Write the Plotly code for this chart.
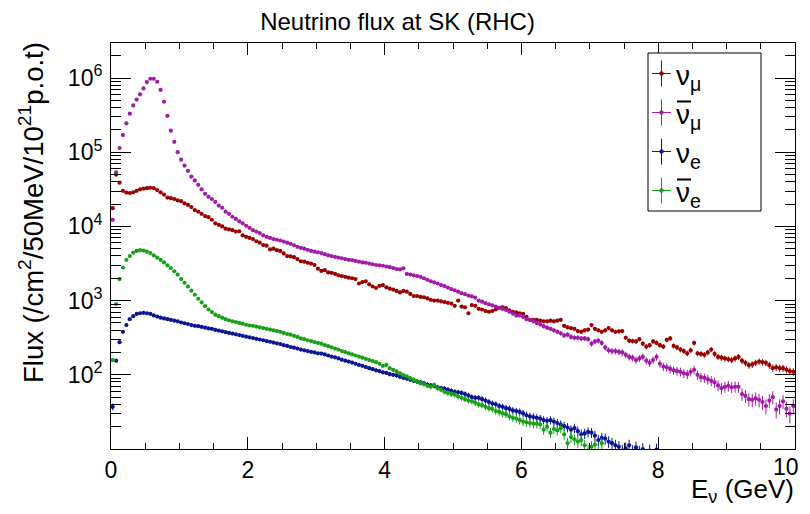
import numpy as np
import plotly.graph_objects as go

# ---------------- data (flux per 50 MeV bin) ----------------
n_bins = 200
bin_width = 0.05
energy = [round(bin_width * (i + 0.5), 3) for i in range(n_bins)]

numu = [17600, 50000, 38900, 30200, 28600, 28200, 28800, 30200, 31600, 32400,
        32800, 33100, 32800, 30900, 28800, 26900, 24500, 24000, 23400, 22400,
        21900, 20400, 19500, 18200, 16600, 15800, 14800, 13800, 13300, 12300,
        11000, 10500, 10000, 9330, 9120, 8910, 8510, 8610, 7590, 7240,
        7000, 6760, 6310, 6030, 5620, 5500, 4900, 5010, 4790, 4680,
        4320, 3980, 3940, 3850, 3630, 3390, 3350, 3240, 3160, 3020,
        2690, 2510, 2570, 2400, 2370, 2290, 2190, 2140, 2090, 2040,
        2000, 1950, 1700, 1780, 1820, 1660, 1550, 1480, 1580, 1620,
        1510, 1450, 1410, 1350, 1290, 1350, 1320, 1230, 1150, 1150,
        1120, 1110, 1070, 1020, 1000, 1000, 977, 955, 933, 912,
        851, 1000, 832, 813, 676, 871, 851, 776, 759, 724,
        708, 724, 759, 794, 813, 794, 741, 708, 692, 676,
        661, 603, 550, 550, 550, 537, 525, 525, 537, 525,
        537, 550, 457, 437, 427, 417, 389, 380, 398, 407,
        468, 417, 398, 380, 398, 427, 398, 380, 385, 389,
        316, 288, 285, 282, 302, 263, 240, 251, 282, 269,
        251, 240, 295, 309, 245, 234, 219, 209, 195, 214,
        269, 195, 191, 186, 200, 219, 191, 174, 170, 166,
        162, 158, 166, 174, 155, 145, 135, 138, 145, 151,
        148, 145, 135, 123, 126, 123, 123, 117, 112, 110]

numubar = [12300, 53700, 114000, 170000, 245000, 331000, 427000, 513000, 603000, 724000,
           883000, 977000, 977000, 891000, 692000, 479000, 309000, 195000, 138000, 100000,
           79400, 66100, 56200, 46800, 41700, 36300, 31600, 27500, 25100, 23400,
           21400, 19100, 17800, 15800, 14800, 13500, 12600, 11700, 11000, 10200,
           9550, 8910, 8510, 8130, 7590, 7240, 7000, 6760, 6610, 6460,
           6240, 6030, 5820, 5560, 5310, 5130, 5010, 4840, 4680, 4570,
           4470, 4370, 4220, 4070, 3980, 3890, 3800, 3720, 3630, 3550,
           3510, 3430, 3350, 3270, 3240, 3160, 3090, 3020, 2990, 2950,
           2880, 2820, 2750, 2660, 2630, 2720, 2290, 2240, 2190, 2140,
           2090, 2000, 1910, 1820, 1760, 1700, 1620, 1570, 1500, 1430,
           1380, 1320, 1260, 1220, 1170, 1140, 1100, 1000, 966, 923,
           891, 861, 832, 804, 776, 750, 708, 668, 631, 631,
           603, 562, 550, 525, 501, 479, 452, 432, 417, 398,
           380, 363, 339, 347, 324, 316, 316, 309, 309, 302,
           263, 282, 288, 269, 234, 214, 209, 209, 204, 200,
           186, 174, 170, 158, 166, 174, 155, 145, 158, 174,
           141, 129, 126, 120, 115, 112, 110, 105, 102, 110,
           117, 100, 93, 91, 87, 83, 79, 72, 66, 69,
           71, 68, 69, 69, 55, 52, 47, 46, 48, 46,
           43, 38, 45, 50, 34, 38, 44, 35, 30, 38]

nue = [37, 155, 275, 380, 468, 562, 617, 661, 676, 684,
       676, 661, 631, 610, 589, 575, 562, 550, 537, 525,
       507, 495, 484, 468, 457, 452, 442, 432, 422, 417,
       403, 394, 385, 376, 367, 359, 351, 343, 335, 327,
       320, 313, 305, 299, 292, 285, 279, 272, 266, 260,
       251, 245, 237, 232, 226, 219, 214, 209, 204, 200,
       195, 193, 188, 182, 176, 172, 166, 160, 155, 151,
       146, 141, 136, 132, 127, 123, 119, 115, 112, 108,
       106, 102, 100, 98, 94, 91, 89, 86, 83, 81,
       79, 77, 74, 72, 71, 68, 66, 65, 63, 61,
       59, 58, 57, 55, 52.5, 50, 49, 49, 47, 45,
       43, 41, 40, 38, 37, 35.5, 34.7, 33.1, 32.4, 31.6,
       30.2, 28.5, 27.5, 26.9, 26.3, 25.7, 24.5, 24.0, 24.5, 23.4,
       22.4, 21.4, 20.4, 19.5, 18.2, 19.1, 17.4, 15.8, 16.2, 17.0,
       16.6, 15.1, 13.2, 14.1, 13.8, 12.6, 12.0, 11.2, 10.7, 9.5,
       10.2, 11.2, 9.3, 10.5, 9.1, 10.0, None, 9.5, None, 9.8] + [None] * 40

nuebar = [158, 900, 1950, 2790, 3550, 3980, 4440, 4680, 4790, 4730,
          4570, 4370, 4070, 3800, 3550, 3270, 2990, 2750, 2480, 2240,
          1950, 1740, 1550, 1360, 1200, 1060, 944, 841, 759, 700,
          646, 617, 589, 562, 543, 525, 513, 501, 490, 473,
          462, 457, 447, 437, 427, 417, 407, 398, 389, 380,
          367, 355, 347, 335, 324, 309, 302, 292, 285, 275,
          269, 263, 251, 243, 234, 226, 219, 209, 202, 195,
          188, 182, 176, 170, 164, 158, 153, 148, 141, 132,
          136, 123, 117, 111, 105, 99, 95, 90, 86, 82,
          77, 75, 71, 69, 73, 66, 63, 59, 57, 55,
          54, 51, 49, 47, 45, 44, 42, 40, 39, 37,
          35.5, 34.7, 32.4, 31.6, 30.2, 29.5, 27.5, 26.3, 25.7, 24.5,
          23.4, 22.9, 22.4, 21.9, 21.9, 21.4, 18.2, 20.0, 16.6, 18.6,
          17.8, 19.1, 15.8, 12.0, 14.5, 13.5, 12.6, 13.2, 11.2, 9.5,
          10.7, 11.5, 8.9, 12.0] + [None] * 56

# statistical weight used for the size of the error bars of each sample
stat_weight = {"numu": 1.5, "numubar": 2.0, "nue": 0.4, "nuebar": 0.4}

series = [
    ("numu", numu, "#990000"),
    ("numubar", numubar, "#a11aa8"),
    ("nue", nue, "#0a1596"),
    ("nuebar", nuebar, "#18a018"),
]

FONT = "Liberation Sans, Arial, Helvetica, sans-serif"

fig = go.Figure()
for name, vals, col in series:
    y = np.array([np.nan if v is None else v for v in vals], dtype=float)
    err = np.sqrt(stat_weight[name] * y)
    fig.add_trace(go.Scatter(
        x=energy, y=y, mode="markers", name=name, showlegend=False,
        marker=dict(color=col, size=4.2, symbol="circle", line=dict(width=0)),
        error_y=dict(type="data", array=err, visible=True, color=col,
                     thickness=1, width=0),
        cliponaxis=True,
    ))

# ---------------- layout ----------------
# the page body adds an 8 px margin around the figure
OFF = 8
W, H = 794, 498
L, R, T, B = 103, 7, 35, 57
pw, ph = W - L - R, H - T - B


def px2x(px):
    """page pixel -> paper x"""
    return (px - OFF - L) / pw


def py2y(py):
    """page pixel -> paper y"""
    return (H - B - (py - OFF)) / ph


major_y = [1e2, 1e3, 1e4, 1e5, 1e6]
minor_y = [m * 10 ** e for e in range(1, 7) for m in range(2, 10) if m * 10 ** e < 2.9e6]

fig.update_layout(
    width=W, height=H,
    margin=dict(l=L, r=R, t=T, b=B, autoexpand=False),
    paper_bgcolor="white", plot_bgcolor="white",
    font=dict(family=FONT, color="black", size=23),
    title=dict(text="Neutrino flux at SK (RHC)", x=(397.5 - OFF) / W, xanchor="center",
               y=1 - (22 - OFF) / H, yanchor="middle", automargin=False,
               font=dict(size=24, family=FONT, color="black")),
    xaxis=dict(range=[0, 10], showgrid=False, zeroline=False, automargin=False,
               showline=True, linecolor="black", linewidth=1, mirror="allticks",
               ticks="inside", ticklen=12, tickcolor="black",
               tickvals=[0, 2, 4, 6, 8, 10], ticktext=["0", "2", "4", "6", "8", ""],
               tickfont=dict(size=23, family=FONT),
               minor=dict(ticks="inside", ticklen=6, tickcolor="black",
                          tickvals=[v / 2 for v in range(21)], showgrid=False)),
    yaxis=dict(type="log", range=[1.0, 6.472], showgrid=False, zeroline=False,
               automargin=False, ticklabelstandoff=3,
               showline=True, linecolor="black", linewidth=1, mirror="allticks",
               ticks="inside", ticklen=20, tickcolor="black",
               tickvals=major_y,
               ticktext=["10<sup>2</sup>", "10<sup>3</sup>", "10<sup>4</sup>",
                         "10<sup>5</sup>", "10<sup>6</sup>"],
               tickfont=dict(size=23, family=FONT),
               minor=dict(ticks="inside", ticklen=10, tickcolor="black",
                          tickvals=minor_y, showgrid=False)),
)

annotations = []
shapes = []

# last x tick label, kept inside the page like in the reference
annotations.append(dict(
    text="10", xref="paper", yref="paper", x=px2x(801), y=py2y(467),
    xanchor="right", yanchor="middle", showarrow=False,
    font=dict(size=23, family=FONT, color="black")))

# axis titles
annotations.append(dict(
    text="Flux (/cm<sup>2</sup>/50MeV/10<sup>21</sup>p.o.t)", textangle=-90,
    xref="paper", yref="paper", x=px2x(31), y=py2y(213),
    xanchor="center", yanchor="middle", showarrow=False,
    font=dict(size=27.5, family=FONT, color="black")))
annotations.append(dict(
    text="E<sub>ν</sub> (GeV)", xref="paper", yref="paper",
    x=px2x(796), y=py2y(490), xanchor="right", yanchor="middle", showarrow=False,
    font=dict(size=26, family=FONT, color="black")))

# legend box (drawn by hand, ROOT style)
shapes.append(dict(type="rect", xref="paper", yref="paper",
                   x0=px2x(648), x1=px2x(761), y0=py2y(211), y1=py2y(53),
                   line=dict(color="black", width=1), fillcolor="white", layer="above"))

legend_entries = [
    ("ν", "μ", False, "#990000", 73.5),
    ("ν", "μ", True, "#a11aa8", 112.5),
    ("ν", "e", False, "#0a1596", 151.5),
    ("ν", "e", True, "#18a018", 190.5),
]
for sym, sub, bar, col, cy in legend_entries:
    shapes.append(dict(type="line", xref="paper", yref="paper",
                       x0=px2x(652), x1=px2x(671), y0=py2y(cy), y1=py2y(cy),
                       line=dict(color=col, width=1), layer="above"))
    shapes.append(dict(type="line", xref="paper", yref="paper",
                       x0=px2x(661.5), x1=px2x(661.5), y0=py2y(cy - 13), y1=py2y(cy + 13),
                       line=dict(color=col, width=1), layer="above"))
    shapes.append(dict(type="circle", xref="paper", yref="paper",
                       x0=px2x(659.5), x1=px2x(663.5), y0=py2y(cy + 2), y1=py2y(cy - 2),
                       line=dict(color=col, width=0.5), fillcolor=col, layer="above"))
    annotations.append(dict(
        text=f"{sym}<sub>{sub}</sub>", xref="paper", yref="paper",
        x=px2x(674), y=py2y(cy + 4), xanchor="left", yanchor="middle", showarrow=False,
        font=dict(size=28, family=FONT, color="black")))
    if bar:
        shapes.append(dict(type="line", xref="paper", yref="paper",
                           x0=px2x(677), x1=px2x(691), y0=py2y(cy - 11), y1=py2y(cy - 11),
                           line=dict(color="black", width=2), layer="above"))

fig.update_layout(annotations=annotations, shapes=shapes)

fig.write_html("out.html")
